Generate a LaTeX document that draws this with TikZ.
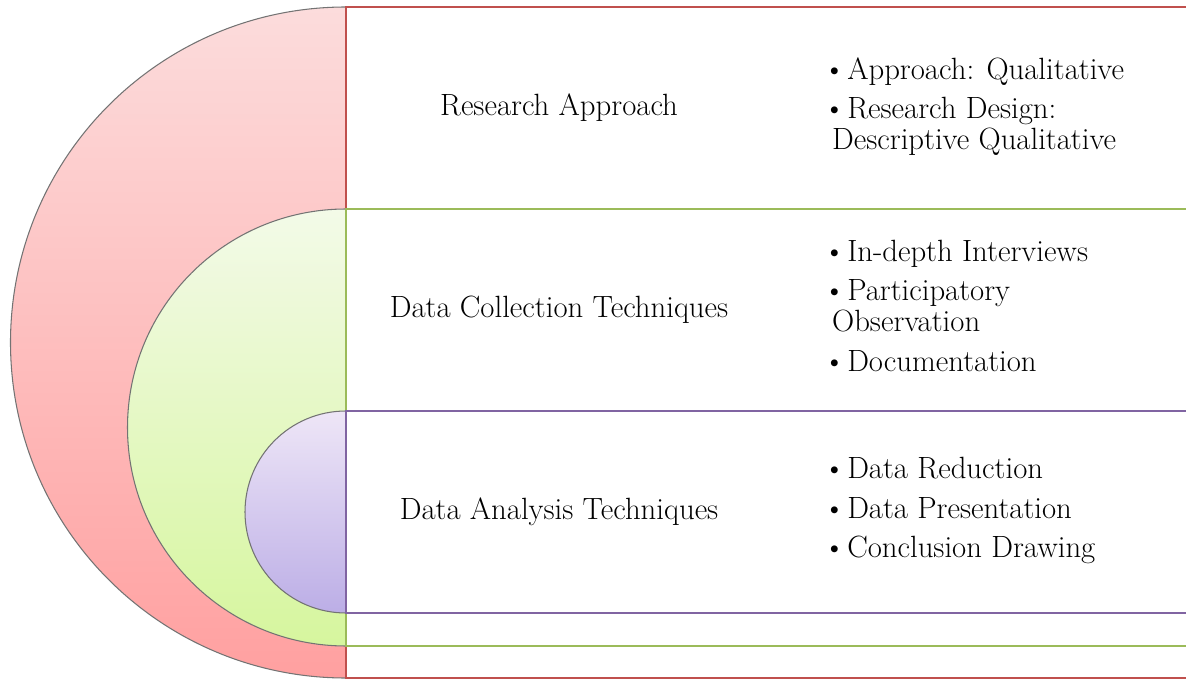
\documentclass[tikz,border=0pt]{standalone}
\usepackage{xcolor}
\usepackage{tikz}

\definecolor{redline}{RGB}{192,80,77}
\definecolor{greenline}{RGB}{155,187,89}
\definecolor{purpleline}{RGB}{128,100,162}
\definecolor{redtop}{RGB}{252,220,220}
\definecolor{redbottom}{RGB}{255,160,160}
\definecolor{greentop}{RGB}{243,250,232}
\definecolor{greenbottom}{RGB}{214,246,158}
\definecolor{purpletop}{RGB}{238,230,247}
\definecolor{purplebottom}{RGB}{188,174,230}

\begin{document}
\begin{tikzpicture}[x=0.02cm,y=0.02cm,
  halfdisc/.style={draw=black!55,line width=0.6pt},
  band/.style={line width=1.1pt},
  title/.style={font=\fontsize{17.5}{17.5}\selectfont,inner sep=0pt},
  list/.style={anchor=west,font=\fontsize{17.5}{17.5}\selectfont,inner sep=0pt}]

\useasboundingbox (0,0) rectangle (1186,680);

\shade[halfdisc,top color=redtop,bottom color=redbottom] (346,673) arc (90:270:335.5) -- cycle;	% grosser Halbkreis
\fill[white] (346,2) rectangle (1186,673);
\draw[band,redline] (1186,673) -- (346,673) -- (346,2) -- (1186,2);					% Rahmen rot

\shade[halfdisc,top color=greentop,bottom color=greenbottom] (346,471) arc (90:270:218.5) -- cycle;	% mittlerer Halbkreis
\fill[white] (346,34) rectangle (1186,471);
\draw[band,greenline] (1186,471) -- (346,471) -- (346,34) -- (1186,34);				% Rahmen gruen

\shade[halfdisc,top color=purpletop,bottom color=purplebottom] (346,269) arc (90:270:101) -- cycle;	% kleiner Halbkreis
\fill[white] (346,67) rectangle (1186,269);
\draw[band,purpleline] (1186,269) -- (346,269) -- (346,67) -- (1186,67);				% Rahmen lila

\node[title] (approach) at (559,572) {Research Approach};
\node[title] (collection) at (559,370) {Data Collection Techniques};
\node[title] (analysis) at (559,168) {Data Analysis Techniques};

\node[list] (approachlist) at (823,572) {\begin{tabular}{@{}l@{\hspace{1pt}}l@{}}
  \textbullet & Approach: Qualitative\\[5pt]
  \textbullet & Research Design:\\
  \multicolumn{2}{@{\hspace{5pt}}l@{}}{Descriptive Qualitative}
  \end{tabular}};
\node[list] (collectionlist) at (823,370) {\begin{tabular}{@{}l@{\hspace{1pt}}l@{}}
  \textbullet & In-depth Interviews\\[5pt]
  \textbullet & Participatory\\
  \multicolumn{2}{@{\hspace{5pt}}l@{}}{Observation}\\[5pt]
  \textbullet & Documentation
  \end{tabular}};
\node[list] (analysislist) at (823,168) {\begin{tabular}{@{}l@{\hspace{1pt}}l@{}}
  \textbullet & Data Reduction\\[5pt]
  \textbullet & Data Presentation\\[5pt]
  \textbullet & Conclusion Drawing
  \end{tabular}};

\end{tikzpicture}
\end{document}
